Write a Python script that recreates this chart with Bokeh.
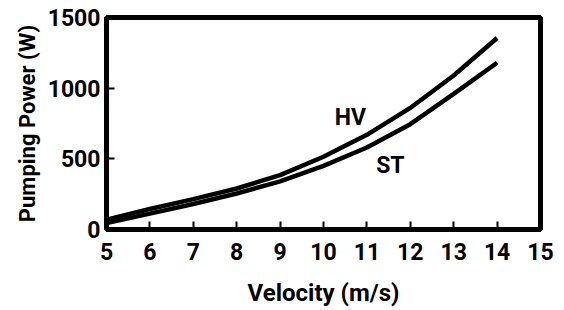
from bokeh.plotting import figure
from bokeh.models import Range1d, FixedTicker, Label
from bokeh.embed import file_html
from bokeh.resources import INLINE

velocity = [5, 6, 7, 8, 9, 10, 11, 12, 13, 14]
hv_power = [70, 145, 215, 290, 385, 515, 670, 860, 1090, 1355]
st_power = [45, 112, 180, 255, 340, 450, 580, 745, 960, 1180]
x_ticks = [5, 6, 7, 8, 9, 10, 11, 12, 13, 14, 15]
y_ticks = [0, 500, 1000, 1500]
label_hv = ("HV", 10.62, 792)
label_st = ("ST", 11.54, 453)

FONT = "Roboto"
FS = "23px"

p = figure(width=564, height=310, output_backend="svg", toolbar_location=None,
           x_range=Range1d(5, 15), y_range=Range1d(0, 1500),
           min_border_left=106, min_border_right=24, min_border_top=17, min_border_bottom=81)
p.grid.visible = False
p.outline_line_color = "black"
p.outline_line_width = 5
p.background_fill_color = "white"
p.border_fill_color = "white"

p.line(velocity, hv_power, line_color="black", line_width=4.5)
p.line(velocity, st_power, line_color="black", line_width=4.5)

for txt, x, y in (label_hv, label_st):
    p.add_layout(Label(x=x, y=y, text=txt, text_font=FONT, text_font_style="bold",
                       text_font_size=FS, text_align="center", text_baseline="middle",
                       text_color="black"))

xax = p.xaxis[0]
yax = p.yaxis[0]
for ax in (xax, yax):
    ax.axis_line_width = 5
    ax.axis_line_color = "black"
    ax.major_tick_in = 8
    ax.major_tick_out = 0
    ax.major_tick_line_width = 2
    ax.minor_tick_line_color = None
    ax.major_label_text_font = FONT
    ax.major_label_text_font_style = "bold"
    ax.major_label_text_font_size = FS
    ax.major_label_text_color = "black"
    ax.axis_label_text_font = FONT
    ax.axis_label_text_font_style = "bold"
    ax.axis_label_text_color = "black"

xax.ticker = FixedTicker(ticks=x_ticks)
xax.axis_label = "Velocity (m/s)"
xax.axis_label_text_font_size = "24px"
xax.major_label_standoff = 13
xax.axis_label_standoff = 16

yax.ticker = FixedTicker(ticks=y_ticks)
yax.axis_label = "Pumping Power (W)"
yax.axis_label_text_font_size = "22px"
yax.major_label_standoff = 6
yax.axis_label_standoff = 5

open("out.html", "w").write(file_html(p, INLINE))
